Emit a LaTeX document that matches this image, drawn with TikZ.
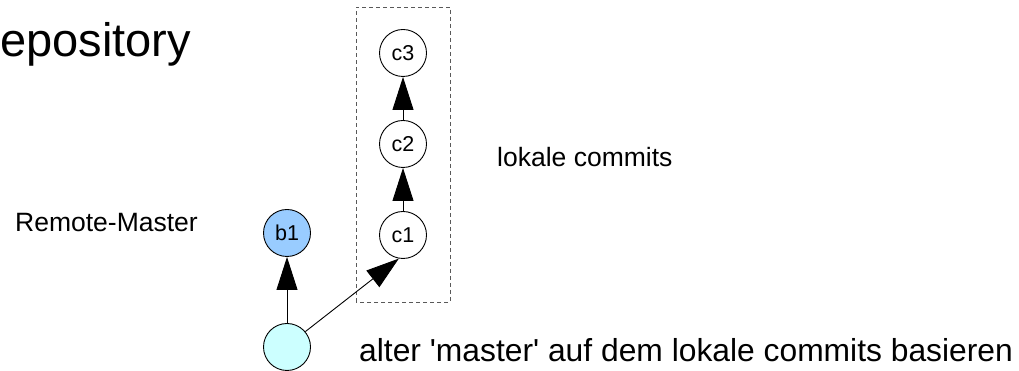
\documentclass[tikz,border=0pt]{standalone}
\usepackage{fontspec}
\setmainfont{Liberation Sans}
\usetikzlibrary{arrows.meta,positioning}

\begin{document}
\begin{tikzpicture}[
		x=1pt, y=1pt,
		commit/.style={draw, circle, line width=0.9pt, minimum size=47pt, inner sep=0pt, font=\fontsize{21.5}{26}\selectfont},
		label text/.style={inner sep=0pt, anchor=base west},
		edge/.style={line width=0.9pt, -{Triangle[length=33pt,width=21pt]}},
		frame/.style={draw=black!65, line width=0.9pt, dash pattern=on 4pt off 3pt}
	]
		\useasboundingbox (0,0) rectangle (1019,371);

		\node[label text, font=\fontsize{47}{56}\selectfont] (title) at (0,314) {epository};

		\node[commit] (c1) at (403,136) {c1};
		\node[commit] (c2) at (403,227) {c2};
		\node[commit] (c3) at (403,318) {c3};
		\node[commit, fill={rgb,255:red,153;green,204;blue,255}] (b1) at (287,138) {b1};
		\node[commit, fill={rgb,255:red,204;green,255;blue,255}] (base) at (287,24) {};

		\draw[frame] (356,69) rectangle (450,364);

		\node[label text, font=\fontsize{26.5}{32}\selectfont] (remote) at (15,139) {Remote-Master};
		\node[label text, font=\fontsize{26.5}{32}\selectfont] (local) at (497,204) {lokale commits};
		\node[label text, font=\fontsize{31.8}{38}\selectfont] (rebase) at (359,9) {alter \textquotesingle master\textquotesingle{} auf dem lokale commits basieren};

		\draw[edge] (c1) -- (c2);
		\draw[edge] (c2) -- (c3);
		\draw[edge] (base) -- (b1);
		\draw[edge] (base.40) -- (c1.-100);
	\end{tikzpicture}
\end{document}
